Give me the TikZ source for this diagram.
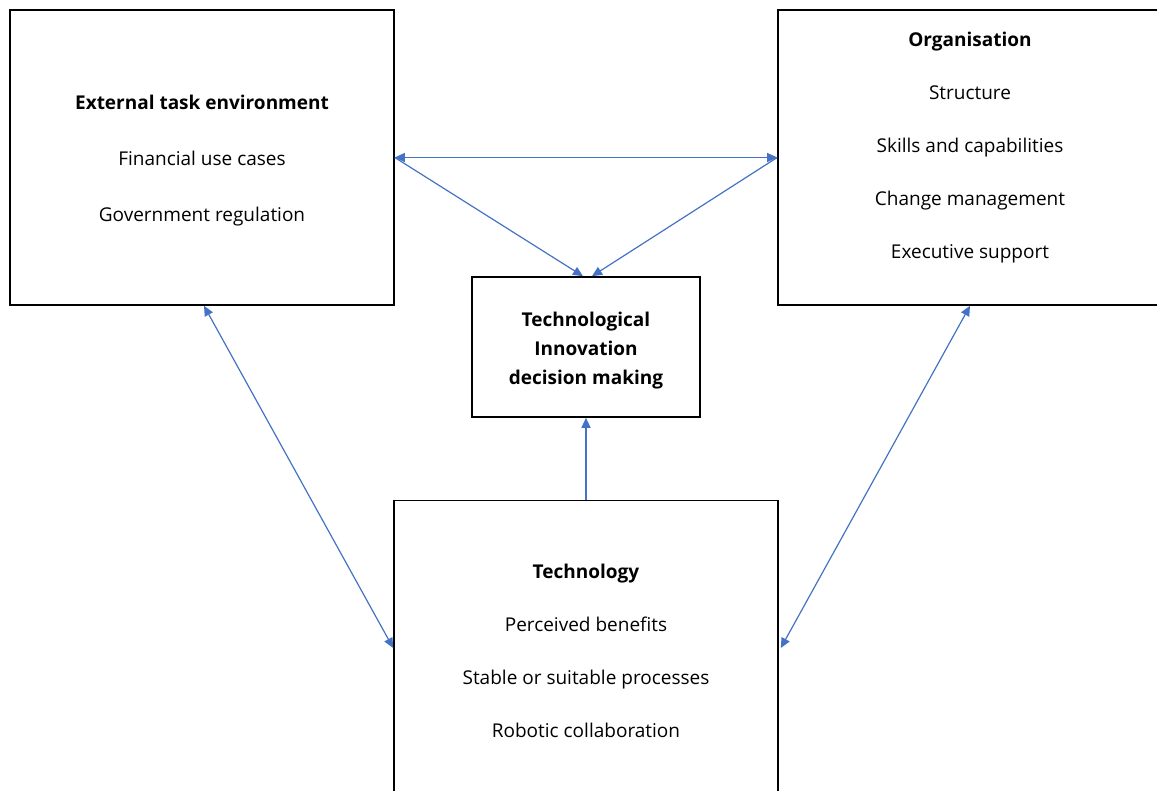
\documentclass[tikz,border=0pt]{standalone}
\usepackage{fontspec}
\setmainfont{Open Sans}
\usetikzlibrary{arrows.meta, positioning}
\definecolor{linkblue}{HTML}{4472C4}
\tikzset{
  box/.style={draw=black, line width=1.6pt, minimum width=384pt, minimum height=295pt, inner sep=0pt},
  txt/.style={align=center, font=\fontsize{19}{53}\selectfont},
  link/.style={draw=linkblue, line width=1.2pt, -{Triangle[length=10pt,width=9pt]}},
  twoway/.style={link, {Triangle[length=10pt,width=9pt]}-{Triangle[length=10pt,width=9pt]}}
}
\begin{document}
\begin{tikzpicture}[x=1pt,y=-1pt]
\useasboundingbox (0,0) rectangle (1157,791);
\clip (0,0) rectangle (1157,791);
% the four boxes
\node[box] (ext) at (202,157.5) {};
\node[box] (org) at (970,157.5) {};
\node[box, minimum width=228pt, minimum height=140pt] (tid) at (586,347) {};
\node[box] (tech) at (586,648) {};
% box texts
\node[txt, font=\fontsize{19}{56}\selectfont] (exttxt) at (202,161) {\textbf{External task environment}\\Financial use cases\\Government regulation};
\node[txt] (orgtxt) at (970,147.5) {\textbf{Organisation}\\Structure\\Skills and capabilities\\Change management\\Executive support};
\node[txt, font=\fontsize{19}{29}\selectfont\bfseries] (tidtxt) at (586,351) {Technological\\Innovation\\decision making};
\node[txt] (techtxt) at (586,651) {\textbf{Technology}\\Perceived benefits\\Stable or suitable processes\\Robotic collaboration};
% links
\draw[twoway] (ext.east) -- (org.west);
\draw[link] (ext.east) -- ([xshift=-3pt]tid.north);
\draw[link] (org.west) -- ([xshift=6pt]tid.north);
\draw[link] (tech.north) -- (tid.south);
\draw[twoway] ([xshift=2pt]ext.south) -- (tech.west);
\draw[twoway] (org.south) -- ([xshift=2pt]tech.east);
\end{tikzpicture}
\end{document}
